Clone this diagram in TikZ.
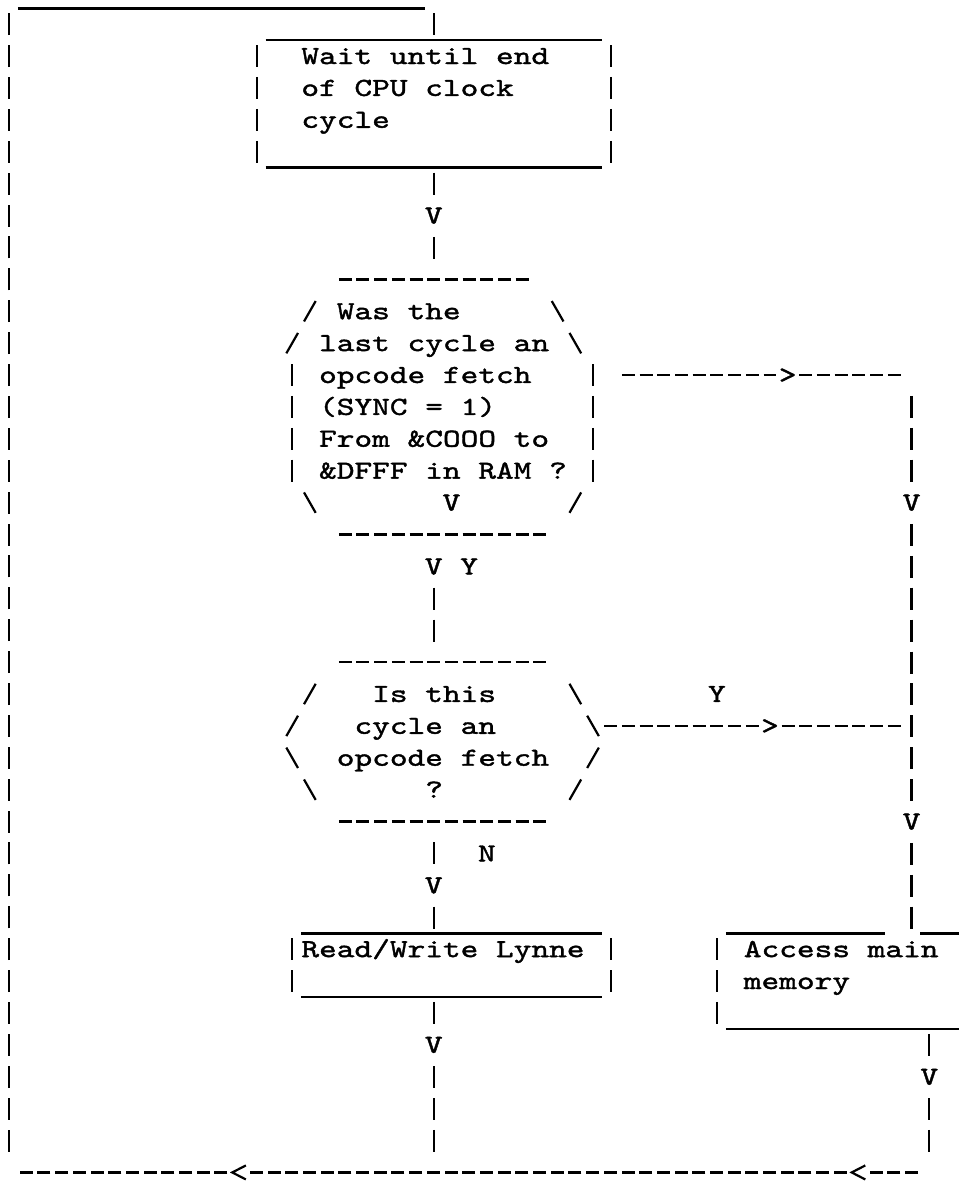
\documentclass[tikz,border=0pt]{standalone}
\usepackage{fontspec}
\usepackage{tikz}
\newfontfamily\typefam{lmmono10-regular.otf}[FakeStretch=1.2967,FakeBold=1.5]
\newcommand{\typew}{\typefam\fontsize{13pt}{15.95pt}\selectfont}
\newlength{\cellw}
\setlength{\cellw}{8.85pt}
% one fixed cell per character, as on the typewriter
\ExplSyntaxOn
\NewDocumentCommand{\mono}{m}{\str_map_inline:nn {#1} {\makebox[\cellw]{##1}}}
\ExplSyntaxOff
\newcommand{\ind}[1]{\hspace*{#1\cellw}}
\lineskiplimit=-20pt
\normallineskiplimit=-20pt

\begin{document}
\begin{tikzpicture}[
  x=8.85pt, y=-15.95pt,
  font=\typew,
  uline/.style={line width=1.3pt},
  pipe/.style={line width=1.1pt,dash pattern=on 11pt off 4.95pt,dash phase=13.475pt},
  hyph/.style={line width=1.2pt,dash pattern=on 6.5pt off 2.35pt,dash phase=7.675pt},
  slash/.style={line width=1.1pt},
  txt/.style={inner sep=0pt,anchor=base west,text width=20em,align=left,xshift=-4.425pt,yshift=-3.97pt},
  glyph/.style={inner sep=0pt,minimum width=8.85pt,minimum height=15.95pt,text height=7.94pt,text depth=0pt},
  lthead/.style={inner sep=0pt,minimum width=8.85pt,minimum height=8pt,
    path picture={\draw[line width=1.1pt]
      ([xshift=3.4pt,yshift=3.5pt]path picture bounding box.center) --
      ([xshift=-3.4pt]path picture bounding box.center) --
      ([xshift=3.4pt,yshift=-3.5pt]path picture bounding box.center);}}]
  \useasboundingbox (-0.508,0.242) rectangle (53.67,37.30);
  % end points of the connectors
  \coordinate (loopTL) at (0,0.5);
  \coordinate (loopBL) at (0,36.5);
  \coordinate (loopTR) at (24,0.5);
  \coordinate (waitT) at (24,1.5);
  \coordinate (waitB) at (24,5.5);
  \coordinate (lastT) at (24,8.5);
  \coordinate (lastR) at (34.5,12);
  \coordinate (thisT) at (24,20.5);
  \coordinate (thisR) at (33.5,23);
  \coordinate (thisB) at (24,26.5);
  \coordinate (rwT) at (24,29.5);
  \coordinate (rwB) at (24,31.5);
  \coordinate (rwJ) at (24,36.5);
  \coordinate (sideC) at (50.5,12);
  \coordinate (sideT) at (51,12.5);
  \coordinate (sideJ) at (50.5,23);
  \coordinate (accT) at (51,29.5);
  \coordinate (accB) at (52,32.5);
  \coordinate (accJ) at (52,36.5);
  \coordinate (retR) at (51.5,37);
  \coordinate (retL) at (0.5,37);

  % wait box
  \draw[uline] (14.5,1.5) -- (33.5,1.5) (14.5,5.5) -- (33.5,5.5);
  \draw[pipe] (14,1.5) -- (14,5.5) (34,1.5) -- (34,5.5);
  \node[txt] (wait) at (17,2) {\mono{Wait until end}\\\mono{of CPU clock}\\\mono{cycle}};

  % first decision
  \draw[hyph] (18.5,9) -- (29.5,9) (18.5,17) -- (30.5,17);
  \draw[pipe] (16,11.5) -- (16,15.5) (33,11.5) -- (33,15.5);
  \foreach \c/\r in {17/10,16/11,32/16}
    \draw[slash] (\c-0.33,\r+0.32) -- (\c+0.33,\r-0.32);
  \foreach \c/\r in {31/10,32/11,17/16}
    \draw[slash] (\c-0.33,\r-0.32) -- (\c+0.33,\r+0.32);
  \node[txt] (last) at (18,10) {\ind{1}\mono{Was the}\\\mono{last cycle an}\\\mono{opcode fetch}\\
    \mono{(SYNC = 1)}\\\mono{From &COOO to}\\\mono{&DFFF in RAM ?}};

  % second decision
  \draw[hyph] (18.5,21) -- (30.5,21) (18.5,26) -- (30.5,26);
  \foreach \c/\r in {17/22,16/23,33/24,32/25}
    \draw[slash] (\c-0.33,\r+0.32) -- (\c+0.33,\r-0.32);
  \foreach \c/\r in {32/22,33/23,16/24,17/25}
    \draw[slash] (\c-0.33,\r-0.32) -- (\c+0.33,\r+0.32);
  \node[txt] (this) at (19,22) {\ind{2}\mono{Is this}\\\ind{1}\mono{cycle an}\\\mono{opcode fetch}\\\ind{5}\mono{?}};

  % read/write box
  \draw[uline] (16.5,29.5) -- (33.5,29.5) (16.5,31.5) -- (33.5,31.5);
  \draw[pipe] (16,29.5) -- (16,31.5) (34,29.5) -- (34,31.5);
  \node[txt] (rw) at (17,30) {\mono{Read/Write Lynne}};

  % main memory box
  \draw[uline] (40.5,29.5) -- (49.5,29.5) (51.5,29.5) -- (53.67,29.5) (40.5,32.5) -- (53.67,32.5);
  \draw[pipe] (40,29.5) -- (40,32.5);
  \node[txt] (acc) at (42,30) {\mono{Access main}\\\mono{memory}};

  % main flow
  \draw[pipe] (loopTR) -- (waitT);
  \node[glyph] (v1) at (24,7) {V};
  \draw[pipe] (waitB) -- (v1);
  \draw[pipe] (v1) -- (lastT);
  \node[glyph] (v2) at (25,16) {V};
  \node[glyph] (v3) at (24,18) {V};
  \node[glyph] (y1) at (26,18) {Y};
  \draw[pipe] (v3) -- (thisT);
  \node[glyph] (n1) at (27,27) {N};
  \node[glyph] (v4) at (24,28) {V};
  \draw[pipe] (thisB) -- (v4);
  \draw[pipe] (v4) -- (rwT);
  \node[glyph] (v5) at (24,33) {V};
  \draw[pipe] (rwB) -- (v5);
  \draw[pipe] (v5) -- (rwJ);

  % side branch to main memory
  \node[glyph] (g1) at (44,12) {>};
  \draw[hyph] (lastR) -- (g1);
  \draw[hyph] (g1) -- (sideC);
  \node[glyph] (v6) at (51,16) {V};
  \node[glyph] (v7) at (51,26) {V};
  \draw[pipe] (sideT) -- (v6);
  \draw[pipe] (v6) -- (v7);
  \draw[pipe] (v7) -- (accT);
  \node[glyph] (y2) at (40,22) {Y};
  \node[glyph] (g2) at (43,23) {>};
  \draw[hyph] (thisR) -- (g2);
  \draw[hyph] (g2) -- (sideJ);
  \node[glyph] (v8) at (52,34) {V};
  \draw[pipe] (accB) -- (v8);
  \draw[pipe] (v8) -- (accJ);

  % return loop
  \node[lthead] (l1) at (48,37) {};
  \node[lthead] (l2) at (13,37) {};
  \draw[hyph] (retR) -- (l1);
  \draw[hyph] (l1) -- (l2);
  \draw[hyph] (l2) -- (retL);
  \draw[pipe] (loopBL) -- (loopTL);
  \draw[uline] (0.5,0.5) -- (23.5,0.5);
\end{tikzpicture}
\end{document}
